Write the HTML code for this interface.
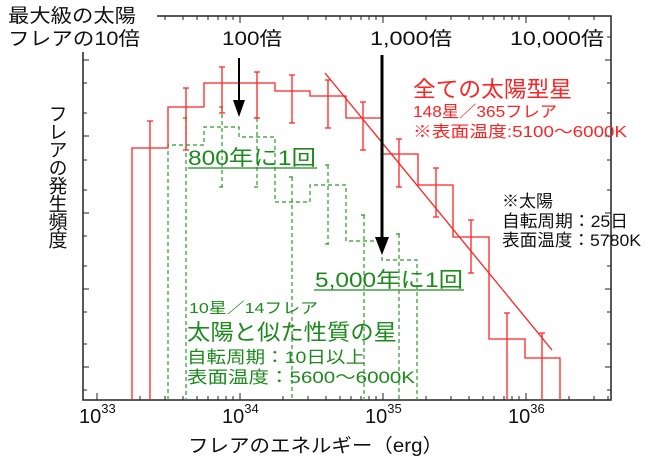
<!DOCTYPE html>
<html><head><meta charset="utf-8"><style>
html,body{margin:0;padding:0;background:#fff;}
svg{display:block;font-family:"Liberation Sans","Noto Sans CJK JP",sans-serif;}
</style></head><body>
<svg width="650" height="465" viewBox="0 0 650 465" xmlns="http://www.w3.org/2000/svg">
<rect width="650" height="465" fill="#fff"/>
<rect x="83" y="16" width="528" height="384" fill="none" stroke="#222" stroke-width="1.5"/>
<g stroke="#222" stroke-width="1">
<path d="M83 60h6M83 136h6M83 213h6M83 289h6M83 367h6M611 60h-6M611 136h-6M611 213h-6M611 289h-6M611 367h-6"/>
<path d="M83 37h4M83 83h4M83 113h4M83 160h4M83 190h4M83 236h4M83 266h4M83 312h4M83 344h4M83 390h4
M611 37h-4M611 83h-4M611 113h-4M611 160h-4M611 190h-4M611 236h-4M611 266h-4M611 312h-4M611 344h-4M611 390h-4"/>
<path d="M97 400v-7M240 400v-7M383 400v-7M526 400v-7M240 16v7M383 16v7M526 16v7"/>
<path d="M140 400v-4M165 400v-4M183 400v-4M197 400v-4M208 400v-4M218 400v-4M226 400v-4M233 400v-4
M283 400v-4M308 400v-4M326 400v-4M340 400v-4M351 400v-4M361 400v-4M369 400v-4M376 400v-4
M426 400v-4M451 400v-4M469 400v-4M483 400v-4M494 400v-4M504 400v-4M512 400v-4M519 400v-4
M569 400v-4M594 400v-4M608 400v-4
M165 16v4M183 16v4M197 16v4M208 16v4M218 16v4M226 16v4M233 16v4
M283 16v4M308 16v4M326 16v4M340 16v4M351 16v4M361 16v4M369 16v4M376 16v4
M426 16v4M451 16v4M469 16v4M483 16v4M494 16v4M504 16v4M512 16v4M519 16v4
M569 16v4M594 16v4"/>
</g>
<g stroke="#2a9a2a" stroke-width="1.2" fill="none" stroke-dasharray="4,3">
<path d="M168 400V145H204V127H239V137H275V202H310V185H346V241H382V260H417V400"/>
<path d="M186 118V400M222 107V187M257 118V187M292 177V400M328 165V244M364 215V400M399 234V400"/>
<path d="M183 118h6M219 107h6M219 187h6M254 118h6M254 187h6M289 177h6M325 165h6M325 244h6M361 215h6M396 234h6"/>
</g>
<g stroke="#f22" stroke-width="1.3" fill="none">
<path d="M132 400V148H168V107H204V83H275V91H310V96H346V118H382V154H418V185H453V237H489V339H525V358H560V400"/>
<path d="M150 121V400M186 88V150M222 67V113M257 72V118M292 75V123M328 80V128M363 102V150M399 139V187M436 168V217M471 220V273M507 313V400M542 333V400"/>
<path d="M147 121h6M183 88h6M183 150h6M219 67h6M219 113h6M254 72h6M254 118h6M289 75h6M289 123h6M325 80h6M325 128h6M360 102h6M360 150h6M396 139h6M396 187h6M433 168h6M433 217h6M468 220h6M468 273h6M504 313h6M539 333h6"/>
<path d="M325 73L552 350"/>
</g>
<line x1="239" y1="58" x2="239" y2="102" stroke="#000" stroke-width="2"/>
<polygon points="233,100 245,100 239,117" fill="#000"/>
<line x1="382" y1="55" x2="382" y2="240" stroke="#000" stroke-width="3"/>
<polygon points="375,237 389,237 382,255" fill="#000"/>
<rect x="0" y="0" width="157" height="52" fill="#fff"/>
<g font-size="19" fill="#111" lengthAdjust="spacingAndGlyphs">
<text x="8" y="22" textLength="128" lengthAdjust="spacingAndGlyphs">最大級の太陽</text>
<text x="8" y="45" textLength="132" lengthAdjust="spacingAndGlyphs">フレアの10倍</text>
<text x="222" y="45" textLength="60" lengthAdjust="spacingAndGlyphs">100倍</text>
<text x="370" y="45" textLength="82" lengthAdjust="spacingAndGlyphs">1,000倍</text>
<text x="510" y="45" textLength="94" lengthAdjust="spacingAndGlyphs">10,000倍</text>
</g>
<text x="56" y="104" font-size="19" fill="#111" style="writing-mode:vertical-rl;glyph-orientation-vertical:0" letter-spacing="-1">フレアの発生頻度</text>
<g font-size="20" fill="#111">
<text x="79" y="423">10<tspan font-size="13" dy="-10">33</tspan></text>
<text x="222" y="423">10<tspan font-size="13" dy="-10">34</tspan></text>
<text x="365" y="423">10<tspan font-size="13" dy="-10">35</tspan></text>
<text x="508" y="423">10<tspan font-size="13" dy="-10">36</tspan></text>
</g>
<text x="188" y="452" font-size="19" fill="#111" textLength="255" lengthAdjust="spacingAndGlyphs">フレアのエネルギー（erg）</text>
<g fill="#1e8a1e">
<text x="188" y="165" font-size="21" textLength="128" lengthAdjust="spacingAndGlyphs">800年に1回</text>
<line x1="188" y1="168" x2="317" y2="168" stroke="#1e8a1e" stroke-width="1.3"/>
<text x="315" y="287" font-size="21" textLength="148" lengthAdjust="spacingAndGlyphs">5,000年に1回</text>
<line x1="314" y1="290" x2="464" y2="290" stroke="#1e8a1e" stroke-width="1.3"/>
<text x="189" y="313" font-size="15" textLength="129" lengthAdjust="spacingAndGlyphs">10星／14フレア</text>
<text x="187" y="340" font-size="22" textLength="210" lengthAdjust="spacingAndGlyphs">太陽と似た性質の星</text>
<text x="187" y="363" font-size="17" textLength="178" lengthAdjust="spacingAndGlyphs">自転周期：10日以上</text>
<text x="187" y="383" font-size="17" textLength="228" lengthAdjust="spacingAndGlyphs">表面温度：5600～6000K</text>
</g>
<g fill="#f22">
<text x="413" y="97" font-size="22" textLength="159" lengthAdjust="spacingAndGlyphs">全ての太陽型星</text>
<text x="413" y="117" font-size="16" textLength="144" lengthAdjust="spacingAndGlyphs">148星／365フレア</text>
<text x="413" y="137" font-size="16" textLength="214" lengthAdjust="spacingAndGlyphs">※表面温度:5100～6000K</text>
</g>
<g fill="#111" font-size="17">
<text x="502" y="207" textLength="51" lengthAdjust="spacingAndGlyphs">※太陽</text>
<text x="502" y="227" textLength="126" lengthAdjust="spacingAndGlyphs">自転周期：25日</text>
<text x="502" y="246" textLength="139" lengthAdjust="spacingAndGlyphs">表面温度：5780K</text>
</g>
</svg>
</body></html>
